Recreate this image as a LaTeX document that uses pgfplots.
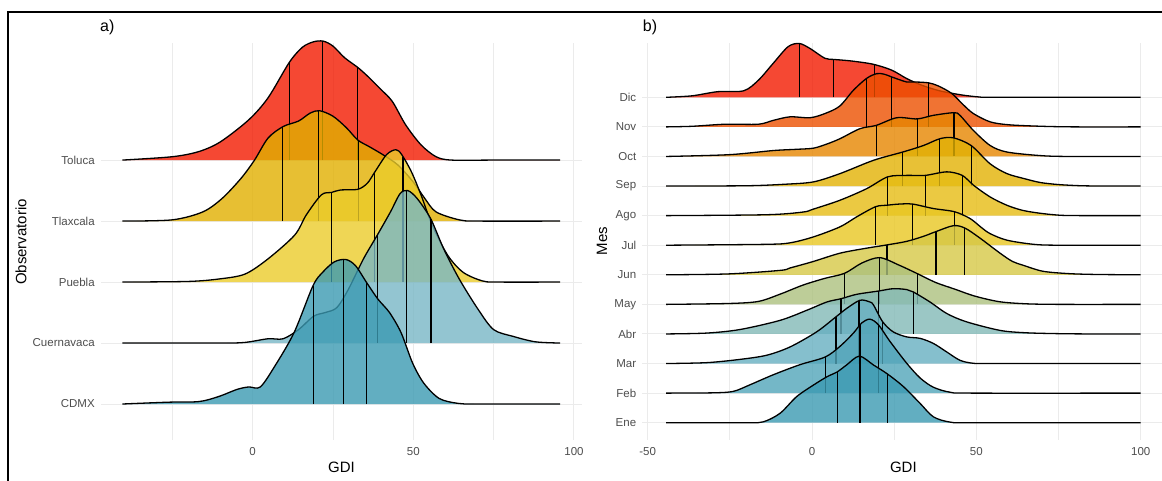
\documentclass[border=0pt]{standalone}
\usepackage{fontspec}
\setmainfont{Liberation Sans}
\usepackage{pgfplots}
\pgfplotsset{compat=1.18}

\definecolor{gridc}{HTML}{EBEBEB}
\definecolor{tickc}{HTML}{4D4D4D}
% Zissou1
\definecolor{cCDMX}{HTML}{3B9AB2}
\definecolor{cCuer}{HTML}{78B7C5}
\definecolor{cPueb}{HTML}{EBCC2A}
\definecolor{cTlax}{HTML}{E1AF00}
\definecolor{cTolu}{HTML}{F21A00}
% months, continuous Zissou1
\definecolor{mEne}{HTML}{3B9AB2}
\definecolor{mFeb}{HTML}{51A5B9}
\definecolor{mMar}{HTML}{67AFC0}
\definecolor{mAbr}{HTML}{82B9B7}
\definecolor{mMay}{HTML}{ACC17E}
\definecolor{mJun}{HTML}{D6C846}
\definecolor{mJul}{HTML}{E9C722}
\definecolor{mAgo}{HTML}{E6BC13}
\definecolor{mSep}{HTML}{E2B204}
\definecolor{mOct}{HTML}{E68600}
\definecolor{mNov}{HTML}{EC5000}
\definecolor{mDic}{HTML}{F21A00}

\pgfplotsset{
  ridge/.style={smooth, tension=0.5, draw=black, line width=1.3pt,
    fill=#1, fill opacity=0.8, draw opacity=1, mark=none},
  ql/.style={black, line width=1.2pt, mark=none},
  ridgeaxis/.style={
    anchor=south west, scale only axis, clip=false,
    axis line style={draw=none}, major tick length=0pt, minor tick length=0pt,
    xmajorgrids, xminorgrids, ymajorgrids,
    major grid style={draw=gridc, line width=1pt},
    minor grid style={draw=gridc, line width=0.7pt},
    ticklabel style={font=\fontsize{11.5}{13}\selectfont, text=tickc},
    xticklabel style={anchor=center, yshift=-12pt},
    yticklabel style={anchor=east, inner sep=0pt, xshift=-6pt},
  },
}

\begin{document}
\begin{tikzpicture}[x=1pt,y=1pt]
\useasboundingbox (0,0) rectangle (1162,481);

% ---------------- a) Observatorio ----------------
\begin{axis}[ridgeaxis, at={(100.9pt,41pt)}, width=481.1pt, height=397pt,
  xmin=-47.2, xmax=102.5, ymin=0.41, ymax=6.92,
  xtick={0,50,100}, xticklabels={0,50,100}, minor xtick={-25,25,75},
  ytick={1,2,3,4,5}, yticklabels={CDMX,Cuernavaca,Puebla,Tlaxcala,Toluca}]

% Toluca
\addplot[ridge=cTolu] coordinates {(-40.5,5) (-25,5.055) (-16.7,5.14) (-10,5.30) (-1.2,5.66) (4.8,6.02) (11.4,6.6) (15.5,6.85) (19,6.94) (22,6.95) (25,6.87) (28.6,6.68) (32.7,6.52) (35.7,6.38) (39.9,6.16) (43.5,5.96) (47.6,5.58) (52.4,5.25) (57.1,5.055) (61.9,5) (75,5) (95.7,5)};
\addplot[ql] coordinates {(11.4,5) (11.4,6.6)};
\addplot[ql] coordinates {(21.7,5) (21.7,6.95)};
\addplot[ql] coordinates {(32.7,5) (32.7,6.52)};

% Tlaxcala
\addplot[ridge=cTlax] coordinates {(-40.5,4) (-25,4.02) (-15.5,4.15) (-9.5,4.37) (-3.6,4.70) (0.6,5.0) (4.8,5.36) (9.5,5.55) (14.3,5.64) (17.9,5.77) (20.8,5.81) (25,5.72) (29.2,5.53) (32.7,5.33) (36.3,5.22) (40.5,5.09) (45.2,4.92) (50,4.64) (53.6,4.37) (57.1,4.15) (64.3,4.02) (70,4) (95.7,4)};
\addplot[ql] coordinates {(9.3,4) (9.3,5.55)};
\addplot[ql] coordinates {(20.5,4) (20.5,5.81)};
\addplot[ql] coordinates {(32.9,4) (32.9,5.32)};

% Puebla
\addplot[ridge=cPueb] coordinates {(-40.5,3) (-20,3.01) (-10.5,3.05) (-2.4,3.13) (4.8,3.38) (13.1,3.77) (16.7,4.10) (21.4,4.43) (24.6,4.47) (27.4,4.51) (32.7,4.52) (35.7,4.62) (38.1,4.81) (41.7,5.09) (44.6,5.17) (46.4,5.09) (49.4,4.81) (52.4,4.43) (55.9,3.93) (60.7,3.44) (65.5,3.16) (71.4,3.02) (76,3) (95.7,3)};
\addplot[ql] coordinates {(24.6,3) (24.6,4.47)};
\addplot[ql] coordinates {(38,3) (38,4.80)};
\addplot[ql] coordinates {(46.8,3) (46.8,5.05)};

% Cuernavaca
\addplot[ridge=cCuer] coordinates {(-40.5,2) (-10,2) (-2.4,2.01) (4.8,2.07) (9.5,2.07) (14.3,2.22) (19,2.44) (22.6,2.50) (26.2,2.58) (29.8,2.88) (34.5,3.38) (38.7,3.76) (42.9,4.15) (45.9,4.45) (48.3,4.50) (51.2,4.37) (55.4,4.04) (59.5,3.54) (64.3,3.05) (70.2,2.55) (75,2.22) (81,2.11) (88,2.02) (95.7,2)};
\addplot[ql] coordinates {(38.9,2) (38.9,3.79)};
\addplot[ql] coordinates {(48,2) (48,4.49)};
\addplot[ql] coordinates {(55.5,2) (55.5,4.03)};

% CDMX
\addplot[ridge=cCDMX] coordinates {(-40.5,1) (-26.2,1.03) (-16.7,1.04) (-10.7,1.12) (-4.8,1.24) (-1.2,1.28) (2.4,1.28) (6.9,1.62) (12.9,2.17) (18.8,2.94) (21.8,3.16) (25.4,3.33) (29,3.37) (32,3.27) (35.5,2.99) (39,2.72) (42.6,2.50) (46.2,2.17) (49.8,1.67) (53.3,1.34) (58.1,1.09) (64,1.01) (70,1) (95.7,1)};
\addplot[ql] coordinates {(19,1) (19,2.93)};
\addplot[ql] coordinates {(28.3,1) (28.3,3.36)};
\addplot[ql] coordinates {(35.5,1) (35.5,2.99)};
\end{axis}

% ---------------- b) Mes ----------------
\begin{axis}[ridgeaxis, at={(642.4pt,41pt)}, width=522pt, height=397pt,
  xmin=-51.6, xmax=107.2, ymin=0.415, ymax=13.836,
  xtick={-50,0,50,100}, xticklabels={-50,0,50,100}, minor xtick={-25,25,75},
  ytick={1,...,12}, yticklabels={Ene,Feb,Mar,Abr,May,Jun,Jul,Ago,Sep,Oct,Nov,Dic}]

% Dic
\addplot[ridge=mDic] coordinates {(-44.4,12) (-36.5,12.05) (-28.7,12.19) (-20.8,12.22) (-16.3,12.58) (-11.8,13.15) (-7.3,13.71) (-3.9,13.82) (-0.6,13.65) (3.9,13.32) (6.7,13.28) (11.8,13.23) (18.5,13.12) (24.2,12.92) (28.7,12.64) (33.1,12.42) (38.8,12.22) (45.5,12.08) (51,12.01) (56,12) (100,12)};
\addplot[ql] coordinates {(-3.9,12) (-3.9,13.82)};
\addplot[ql] coordinates {(6.6,12) (6.6,13.28)};
\addplot[ql] coordinates {(18.9,12) (18.9,13.11)};

% Nov
\addplot[ridge=mNov] coordinates {(-44.4,11) (-36.5,11.02) (-26.4,11.09) (-16.3,11.09) (-11.8,11.22) (-6.7,11.34) (-0.6,11.31) (3.9,11.45) (8.4,11.70) (12.6,12.24) (16.6,12.64) (19.7,12.80) (22,12.78) (24.2,12.69) (28.7,12.52) (30.8,12.52) (35.4,12.49) (38.5,12.38) (42.5,12.13) (46,11.75) (49.1,11.45) (54.2,11.17) (60,11.07) (70,11.02) (80,11) (100,11)};
\addplot[ql] coordinates {(16.6,11) (16.6,12.64)};
\addplot[ql] coordinates {(24.2,11) (24.2,12.69)};
\addplot[ql] coordinates {(35.4,11) (35.4,12.49)};

% Oct
\addplot[ridge=mOct] coordinates {(-44.4,10) (-25.3,10.06) (-11.8,10.2) (-5.1,10.24) (0.4,10.28) (4.5,10.42) (8.5,10.60) (14.6,10.94) (19.5,11.05) (25.8,11.31) (32,11.27) (36.9,11.39) (43.2,11.48) (45,11.39) (49.1,10.88) (54.2,10.37) (59.3,10.15) (69.4,10.03) (78,10) (100,10)};
\addplot[ql] coordinates {(19.5,10) (19.5,11.05)};
\addplot[ql] coordinates {(32,10) (32,11.27)};
\addplot[ql] coordinates {(43.2,10) (43.2,11.48)};

% Sep
\addplot[ridge=mSep] coordinates {(-44.4,9) (-20,9.01) (-8.4,9.06) (0.4,9.14) (8.5,9.42) (18.7,9.87) (27.6,10.15) (33.9,10.37) (38.9,10.60) (43,10.63) (48.4,10.37) (54.2,9.75) (59.3,9.42) (64.6,9.25) (69.4,9.12) (75,9.05) (82,9.01) (90,9) (100,9)};
\addplot[ql] coordinates {(27.6,9) (27.6,10.15)};
\addplot[ql] coordinates {(38.9,9) (38.9,10.60)};
\addplot[ql] coordinates {(48.4,9) (48.4,10.37)};

% Ago
\addplot[ridge=mAgo] coordinates {(-44.4,8) (-14,8.03) (-2.8,8.12) (0.4,8.22) (8.5,8.52) (16.6,8.91) (23,9.31) (28.8,9.36) (34.4,9.36) (41,9.48) (45.7,9.36) (49.1,9.03) (54.2,8.63) (59.3,8.35) (64,8.18) (69.4,8.08) (76,8.01) (85,8) (100,8)};
\addplot[ql] coordinates {(23,8) (23,9.31)};
\addplot[ql] coordinates {(34.4,8) (34.4,9.36)};
\addplot[ql] coordinates {(45.7,8) (45.7,9.36)};

% Jul
\addplot[ridge=mJul] coordinates {(-44.4,7) (-14,7.03) (-6.7,7.08) (0.4,7.28) (8.5,7.62) (13.6,7.96) (19.3,8.30) (22.7,8.35) (26.5,8.39) (30.6,8.39) (36.9,8.24) (43.4,8.13) (48.1,7.90) (51.5,7.6) (54.2,7.39) (59.3,7.17) (67.4,7.03) (75,7) (100,7)};
\addplot[ql] coordinates {(19.3,7) (19.3,8.30)};
\addplot[ql] coordinates {(30.6,7) (30.6,8.39)};
\addplot[ql] coordinates {(43.4,7) (43.4,8.13)};

% Jun
\addplot[ridge=mJun] coordinates {(-44.4,6) (-25.3,6.03) (-9.6,6.15) (-6.7,6.23) (0.4,6.45) (8.5,6.73) (16.6,6.90) (22.8,7.01) (28.8,7.13) (33.9,7.30) (37.7,7.46) (43,7.66) (46.5,7.58) (51.1,7.24) (57.2,6.73) (61,6.45) (64.3,6.32) (70.2,6.12) (78,6.04) (87,6.01) (100,6)};
\addplot[ql] coordinates {(22.8,6) (22.8,7.01)};
\addplot[ql] coordinates {(37.7,6) (37.7,7.46)};
\addplot[ql] coordinates {(46.5,6) (46.5,7.58)};

% May
\addplot[ridge=mMay] coordinates {(-44.4,5) (-25.3,5.03) (-16.3,5.1) (-9.6,5.35) (-2.8,5.65) (3.9,5.88) (9.9,6.05) (15.2,6.40) (20.6,6.58) (26.4,6.33) (32.2,6.03) (37.6,5.74) (43.3,5.52) (49.5,5.28) (57,5.09) (65,5.02) (75,5) (100,5)};
\addplot[ql] coordinates {(9.9,5) (9.9,6.05)};
\addplot[ql] coordinates {(20.6,5) (20.6,6.58)};
\addplot[ql] coordinates {(32.2,5) (32.2,6.03)};

% Abr
\addplot[ridge=mAbr] coordinates {(-44.4,4) (-32,4.03) (-21.9,4.15) (-9.7,4.46) (-1.6,4.80) (4.5,5.08) (8.8,5.19) (13.6,5.34) (20.2,5.45) (24.7,5.53) (28.8,5.50) (30.8,5.42) (35.9,5.08) (41,4.69) (47,4.41) (57.2,4.12) (65,4.04) (75,4.01) (85,4) (100,4)};
\addplot[ql] coordinates {(8.8,4) (8.8,5.19)};
\addplot[ql] coordinates {(20.2,4) (20.2,5.45)};
\addplot[ql] coordinates {(30.8,4) (30.8,5.42)};

% Mar
\addplot[ridge=mMar] coordinates {(-44.4,3) (-32,3.03) (-21.9,3.14) (-13.8,3.28) (-6.7,3.56) (1.4,4.07) (7.3,4.58) (10.5,4.86) (14.6,5.14) (17.6,5.08) (18.7,4.98) (21.5,4.41) (24.7,4.07) (28.8,3.90) (32.9,3.85) (36.9,3.68) (41,3.39) (45,3.11) (49,3.01) (55,3) (100,3)};
\addplot[ql] coordinates {(7.3,3) (7.3,4.58)};
\addplot[ql] coordinates {(14.3,3) (14.3,5.13)};
\addplot[ql] coordinates {(21.5,3) (21.5,4.41)};

% Feb
\addplot[ridge=mFeb] coordinates {(-44.4,2) (-30,2.01) (-23.9,2.06) (-18.9,2.28) (-11.8,2.62) (-3.7,2.96) (4,3.22) (8.5,3.58) (12.6,4.03) (15.1,4.37) (17.6,4.50) (20.2,4.31) (23.7,3.75) (28.8,3.01) (32.9,2.51) (36.9,2.20) (42,2.03) (49,2) (100,2)};
\addplot[ql] coordinates {(4,2) (4,3.22)};
\addplot[ql] coordinates {(14.6,2) (14.6,4.30)};
\addplot[ql] coordinates {(20.2,2) (20.2,4.31)};

% Ene
\addplot[ridge=mEne] coordinates {(-44.4,1) (-20,1) (-14.8,1.03) (-9.7,1.32) (-4.7,1.88) (0.4,2.27) (4.5,2.55) (7.7,2.72) (10.5,2.95) (14.4,3.25) (18.7,2.95) (22.9,2.65) (27.8,2.22) (32.9,1.65) (36.9,1.20) (42,1.02) (49,1) (100,1)};
\addplot[ql] coordinates {(7.7,1) (7.7,2.72)};
\addplot[ql] coordinates {(14.6,1) (14.6,3.25)};
\addplot[ql] coordinates {(22.9,1) (22.9,2.65)};
\end{axis}

% titles and frame
\node[font=\fontsize{15}{17}\selectfont] at (341.5,14) {GDI};
\node[font=\fontsize{15}{17}\selectfont] at (903.4,14) {GDI};
\node[font=\fontsize{15}{17}\selectfont, rotate=90] at (21,239) {Observatorio};
\node[font=\fontsize{15}{17}\selectfont, rotate=90] at (602,240) {Mes};
\node[font=\fontsize{16}{18}\selectfont, anchor=west, inner sep=0pt] at (100,454) {a)};
\node[font=\fontsize{16}{18}\selectfont, anchor=west, inner sep=0pt] at (642.7,454) {b)};
\draw[line width=2pt] (7.5,0) -- (7.5,468.5) -- (1163,468.5);
\end{tikzpicture}
\end{document}
